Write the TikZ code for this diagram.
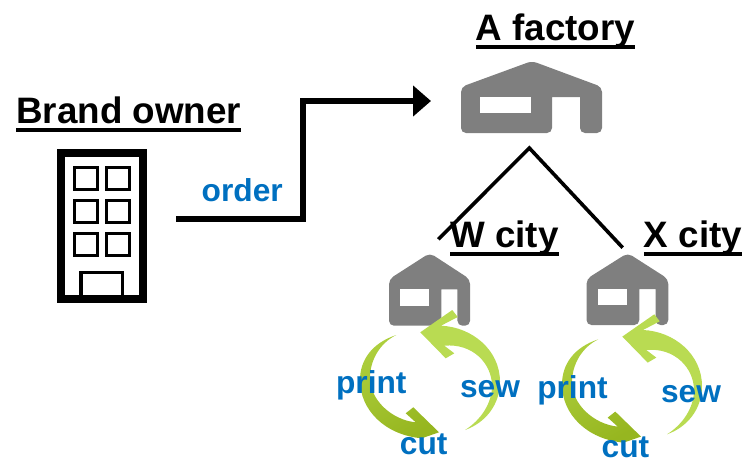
\documentclass[tikz,border=0pt]{standalone}
\usepackage{fontspec}
\setmainfont{Liberation Sans}
\usetikzlibrary{arrows.meta}
\newlength{\du}
\setlength{\du}{0.5pt}
\definecolor{factorygray}{rgb}{0.498039, 0.498039, 0.498039}
\definecolor{wordblue}{rgb}{0.000000, 0.439216, 0.752941}
\definecolor{sewlight}{rgb}{0.800000, 0.901961, 0.470000}
\definecolor{sewdark}{rgb}{0.725000, 0.860000, 0.320000}
\definecolor{printlight}{rgb}{0.680000, 0.810000, 0.240000}
\definecolor{printdark}{rgb}{0.590000, 0.715000, 0.125000}
\tikzset{
  titletext/.style={anchor=base,inner sep=0pt,font=\bfseries\fontsize{36.8\du}{36.8\du}\selectfont},
  worktext/.style={anchor=base,inner sep=0pt,text=wordblue,font=\bfseries\fontsize{31.7\du}{31.7\du}\selectfont},
  orderline/.style={line width=6\du,-{Triangle[length=9pt,width=15pt]}},
  cityline/.style={line width=3.6\du},
  towerwall/.style={line width=3.4\du}
}
% title with the rule going through the descenders
\newcommand{\rulettext}[1]{\setbox0\hbox{#1}\rlap{\rule[-4pt]{\wd0}{1.8pt}}\box0}
% factory icon, x y xscale yscale
\newcommand{\factoryicon}[4]{
\begin{scope}[shift={(#1\du,#2\du)},xscale=#3,yscale=#4]
\fill[factorygray,rounded corners=5\du] (0\du,72\du)--(0\du,26\du)--(71\du,0\du)--(141\du,26\du)--(141\du,72\du)--(119\du,72\du)[sharp corners]--(119\du,36\du)--(91\du,36\du)[rounded corners=5\du]--(91\du,72\du)--cycle;
\fill[white] (19\du,36\du) rectangle (70\du,52\du);
\end{scope}
}
% the two round arrows, dx dy
\newcommand{\sewloop}[2]{
\begin{scope}[shift={(#1\du,#2\du)}]
\shade[left color=sewdark,middle color=sewlight,right color=sewdark,shading angle=20] (420.3\du,332.3\du)--(452.3\du,310\du)--(457.7\du,317\du)--(441\du,325.7\du) .. controls (472\du,327\du) and (500\du,350\du) .. (500\du,381.7\du) .. controls (500\du,405\du) and (485\du,423\du) .. (465\du,430\du) .. controls (481\du,420\du) and (492\du,403\du) .. (492\du,386\du) .. controls (492\du,364\du) and (473\du,343\du) .. (444.3\du,345.7\du)--(454.3\du,353.3\du)--(445.7\du,358.3\du)--cycle;
\shade[left color=printlight,right color=printdark,shading angle=30] (396.3\du,335\du) .. controls (372\du,343\du) and (360\du,360\du) .. (360\du,380\du) .. controls (360\du,410\du) and (385\du,435\du) .. (421.7\du,438.3\du)--(439\du,432.3\du)--(413.3\du,407.3\du)--(405.7\du,413.3\du)--(415.7\du,422.3\du) .. controls (392\du,420\du) and (370\du,400\du) .. (370\du,378\du) .. controls (370\du,360\du) and (380\du,343\du) .. cycle;
\end{scope}
}

\begin{document}
\begin{tikzpicture}
\pgftransformxscale{1.000000}
\pgftransformyscale{-1.000000}
\useasboundingbox (0\du,0\du) rectangle (744\du,461\du);
% office tower
\draw[line width=8\du] (61\du,153\du) rectangle (143\du,299\du);
\foreach \winx in {73,105}
  \foreach \winy in {166,199,232}
    \draw[towerwall] (\winx\du+1.7\du,\winy\du+1.7\du) rectangle +(23\du,22\du);
\draw[towerwall] (81\du,299\du)--(81\du,272.5\du)--(122.5\du,272.5\du)--(122.5\du,299\du);
% factories
\factoryicon{461}{61}{1}{1}
\factoryicon{389}{253}{0.575}{1.01}
\factoryicon{586.5}{253}{0.58}{1}
% connectors
\coordinate (orderstart) at (176\du,218.5\du);
\coordinate (orderlow) at (303\du,218.5\du);
\coordinate (orderhigh) at (303\du,101\du);
\coordinate (orderend) at (431\du,101\du);
\coordinate (cityfork) at (529.3\du,148\du);
\coordinate (wcity) at (438.3\du,239.3\du);
\coordinate (xcity) at (622.7\du,247.7\du);
\draw[orderline] (orderstart)--(orderlow)--(orderhigh)--(orderend);
\draw[cityline] (wcity)--(cityfork)--(xcity);
% round arrows
\sewloop{0}{0}
\sewloop{202}{4.3}
% texts
\node[titletext] (brandowner) at (128.8\du,123.7\du){\rulettext{Brand owner}};
\node[titletext] (afactory) at (555.5\du,40.5\du){\rulettext{A factory}};
\node[titletext] (wcitylabel) at (504.5\du,247.5\du){\rulettext{W city}};
\node[titletext] (xcitylabel) at (693\du,247.5\du){\rulettext{X city}};
\node[worktext] (order) at (242.2\du,201\du){order};
\node[worktext] (printw) at (371.3\du,393.5\du){print};
\node[worktext] (seww) at (490\du,397.5\du){sew};
\node[worktext] (cutw) at (423.7\du,454\du){cut};
\node[worktext] (printx) at (572.5\du,398\du){print};
\node[worktext] (sewx) at (691\du,402\du){sew};
\node[worktext] (cutx) at (625.5\du,457.5\du){cut};
\end{tikzpicture}
\end{document}
